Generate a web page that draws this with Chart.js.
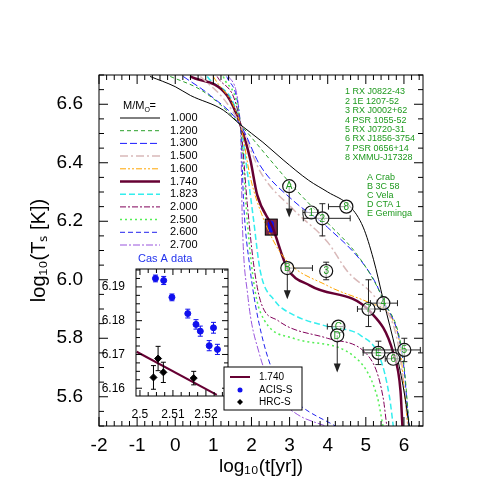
<!DOCTYPE html>
<html>
<head>
<meta charset="utf-8">
<script src="https://cdn.jsdelivr.net/npm/chart.js@4"></script>
<style>
  body { margin:0; background:#fff; }
  #wrap { position:relative; width:498px; height:498px; }
  #wrap canvas { position:absolute; left:0; top:0; }
</style>
</head>
<body>
<div id="wrap">
  <canvas id="main" width="498" height="498"></canvas>
  <canvas id="inset" width="498" height="498"></canvas>
</div>
<script>
/* ---------- 1.  DATA ---------- */
const xTicks = [-2, -1, 0, 1, 2, 3, 4, 5, 6];
const yTicks = [5.6, 5.8, 6.0, 6.2, 6.4, 6.6];
const masses = ['1.000','1.200','1.300','1.500','1.600','1.740','1.823','2.000','2.500','2.600','2.700'];

// cooling curves, log t  /  log Ts
const m100x = [-0.66, 0, 0.4, 1.26, 1.71, 2.3, 2.83, 3.5, 4.0, 4.59, 4.93, 5.2, 5.46, 5.8, 6.0, 6.14];
const m100y = [6.695, 6.66, 6.63, 6.58, 6.53, 6.47, 6.41, 6.34, 6.3, 6.25, 6.18, 6.07, 5.93, 5.75, 5.62, 5.5];
const m120x = [-0.13, 0.66, 1.26, 1.71, 2.49, 3.15, 3.88, 4.86, 5.46, 5.98, 6.14];
const m120y = [6.695, 6.65, 6.59, 6.53, 6.41, 6.31, 6.21, 6.07, 5.93, 5.73, 5.5];
const m130x = [0.21, 0.92, 1.71, 2.23, 3.1, 3.99, 5.12, 5.46, 5.98, 6.13];
const m130y = [6.695, 6.63, 6.53, 6.39, 6.27, 6.18, 6.02, 5.93, 5.72, 5.5];
const m150x = [0.66, 1.26, 1.71, 2.23, 3.1, 3.99, 4.51, 5.3, 5.83, 6.12];
const m150y = [6.695, 6.62, 6.53, 6.37, 6.24, 6.13, 6.03, 5.93, 5.79, 5.5];
const m160x = [1.0, 1.71, 1.97, 2.31, 2.83, 3.99, 5.12, 5.83, 6.1];
const m160y = [6.695, 6.53, 6.35, 6.21, 6.08, 5.98, 5.92, 5.82, 5.5];
const m174x = [0.39, 1.36, 1.71, 1.97, 2.15, 2.55, 2.94, 3.54, 5.12, 5.72, 5.91, 5.96];
const m174y = [6.695, 6.63, 6.53, 6.41, 6.29, 6.18, 6.04, 5.98, 5.89, 5.75, 5.62, 5.5];
const m182x = [0.84, 1.71, 1.88, 2.05, 2.23, 2.6, 3.1, 4.0, 4.86, 5.38, 5.62, 5.72];
const m182y = [6.695, 6.53, 6.38, 6.21, 6.03, 5.93, 5.88, 5.84, 5.81, 5.73, 5.6, 5.5];
const m200x = [1.1, 1.71, 1.89, 2.05, 2.23, 2.7, 3.99, 5.12, 5.45, 5.55];
const m200y = [6.695, 6.53, 6.26, 6.06, 5.93, 5.86, 5.8, 5.73, 5.6, 5.5];
const m250x = [1.26, 1.71, 1.89, 2.05, 2.23, 3.1, 4.67, 5.3, 5.45];
const m250y = [6.695, 6.53, 6.2, 6.0, 5.89, 5.8, 5.74, 5.6, 5.5];
const m260x = [1.35, 1.71, 1.8, 1.95, 2.2, 2.68, 3.28, 4.2];
const m260y = [6.695, 6.53, 6.25, 6.05, 5.85, 5.65, 5.57, 5.5];
const m270x = [1.4, 1.71, 1.76, 1.9, 2.2, 2.7, 3.2, 3.94];
const m270y = [6.695, 6.53, 6.2, 5.95, 5.75, 5.6, 5.54, 5.5];

// observed stars
const obsLabel = ['A','1','2','8','B','3','7','4','C','D','E','6','5'];
const obsX     = [2.99, 3.57, 3.86, 4.49, 2.94, 3.96, 5.07, 5.46, 4.28, 4.25, 5.33, 5.72, 6.01];
const obsY     = [6.32, 6.23, 6.21, 6.25, 6.04, 6.03, 5.90, 5.92, 5.84, 5.81, 5.75, 5.73, 5.76];
const obsXlo   = [null, 3.35, 3.36, 4.02, null, null, 4.78, 5.12, 3.99, null, 4.93, 5.51, 4.93];
const obsXhi   = [null, 3.75, 4.59, null, 3.6, null, 5.38, 5.83, 4.41, null, 5.7, 5.9, 6.43];
const obsYlo   = [null, null, 6.15, null, null, 6.0, 5.84, 5.9, null, null, 5.71, null, 5.72];
const obsYhi   = [null, null, 6.26, null, null, 6.06, 6.0, 5.94, null, null, 5.79, null, 5.8];
const arrowTo  = [6.22, null, null, null, 5.94, null, null, null, null, 5.69, null, null, null];

const starList = ['1 RX J0822-43','2 1E 1207-52','3 RX J0002+62','4 PSR 1055-52','5 RX J0720-31','6 RX J1856-3754','7 PSR 0656+14','8 XMMU-J17328'];
const snrList  = ['A Crab','B 3C 58','C Vela','D CTA 1','E Geminga'];

// Cas A (inset)
const acisX = [2.5047, 2.5072, 2.5097, 2.5145, 2.5170, 2.5183, 2.5210, 2.5223, 2.5235];
const acisY = [6.1925, 6.1919, 6.1869, 6.1821, 6.1789, 6.1769, 6.1726, 6.1779, 6.1715];
const acisE = [0.0010, 0.0012, 0.0010, 0.0013, 0.0014, 0.0015, 0.0015, 0.0016, 0.0015];
const hrcX  = [2.5041, 2.5055, 2.5071, 2.5163];
const hrcY  = [6.1632, 6.1688, 6.1647, 6.1630];
const hrcE  = [0.0035, 0.0036, 0.0030, 0.0020];
const lineX = [2.499, 2.5233];
const lineY = [6.1708, 6.158];
const insetXTicks = [2.5, 2.51, 2.52];
const insetYTicks = [6.16, 6.17, 6.18, 6.19];

/* ---------- 2.  STYLES ---------- */
const FONT = '"Liberation Sans", Arial, sans-serif';
const curveStyle = [
  { c:'#000000', d:[],              w:1 },
  { c:'#2aa02a', d:[4,3],           w:1 },
  { c:'#1a1aff', d:[7,3],           w:1 },
  { c:'#d9b9b9', d:[8,3,2,3],       w:1.5 },
  { c:'#ffa500', d:[6,2,2,2,2,2],   w:1 },
  { c:'#660033', d:[],              w:2.5 },
  { c:'#33eeee', d:[6,3],           w:1.5 },
  { c:'#80005a', d:[6,2,2,2],       w:1 },
  { c:'#55ee55', d:[2,3],           w:1.5 },
  { c:'#2222ee', d:[5,3],           w:1 },
  { c:'#9955dd', d:[7,2,2,2],       w:1 }
];
const curvesX = [m100x,m120x,m130x,m150x,m160x,m174x,m182x,m200x,m250x,m260x,m270x];
const curvesY = [m100y,m120y,m130y,m150y,m160y,m174y,m182y,m200y,m250y,m260y,m270y];

const zip = (xs, ys) => xs.map((x, i) => ({ x, y: ys[i] }));

/* ---------- 3.  HELPERS ---------- */
function drawTicks(chart, xMajor, yMajor, xMinorStep, yMinorStep, majLen, minLen) {
  const { ctx, chartArea: a, scales: { x, y } } = chart;
  ctx.save();
  ctx.strokeStyle = '#000'; ctx.lineWidth = 1;
  ctx.strokeRect(a.left, a.top, a.right - a.left, a.bottom - a.top);
  ctx.beginPath();
  for (let v = Math.ceil(x.min / xMinorStep - 1e-6) * xMinorStep; v <= x.max + 1e-9; v += xMinorStep) {
    const px = x.getPixelForValue(v);
    const L = xMajor.some(t => Math.abs(t - v) < xMinorStep / 10) ? majLen : minLen;
    ctx.moveTo(px, a.bottom); ctx.lineTo(px, a.bottom - L);
    ctx.moveTo(px, a.top);    ctx.lineTo(px, a.top + L);
  }
  for (let v = Math.ceil(y.min / yMinorStep - 1e-6) * yMinorStep; v <= y.max + 1e-9; v += yMinorStep) {
    const py = y.getPixelForValue(v);
    const L = yMajor.some(t => Math.abs(t - v) < yMinorStep / 10) ? majLen : minLen;
    ctx.moveTo(a.left, py);  ctx.lineTo(a.left + L, py);
    ctx.moveTo(a.right, py); ctx.lineTo(a.right - L, py);
  }
  ctx.stroke();
  ctx.restore();
}

/* ---------- 4.  MAIN CHART ---------- */
const mainDecor = {
  id: 'mainDecor',
  beforeDatasetsDraw(chart) {
    const { ctx, scales: { x, y } } = chart;
    const cx = x.getPixelForValue(2.52), cy = y.getPixelForValue(6.18);
    ctx.save(); ctx.fillStyle = '#7a2a45'; ctx.fillRect(cx - 6, cy - 8, 12, 16); ctx.restore();
  },
  afterDatasetsDraw(chart) {
    const { ctx, scales: { x, y } } = chart;
    drawTicks(chart, xTicks, yTicks, 0.2, 0.05, 9, 5);

    ctx.save();
    // Cas A box
    const cx = x.getPixelForValue(2.52), cy = y.getPixelForValue(6.18);
    ctx.strokeStyle = '#000'; ctx.lineWidth = 1;
    ctx.strokeRect(cx - 6, cy - 8, 12, 16);

    // observed objects
    obsLabel.forEach((lab, i) => {
      const px = x.getPixelForValue(obsX[i]), py = y.getPixelForValue(obsY[i]);
      ctx.strokeStyle = '#222'; ctx.lineWidth = 1;
      ctx.beginPath();
      if (obsXlo[i] != null) { const q = x.getPixelForValue(obsXlo[i]);
        ctx.moveTo(q, py); ctx.lineTo(px, py); ctx.moveTo(q, py - 3); ctx.lineTo(q, py + 3); }
      if (obsXhi[i] != null) { const q = x.getPixelForValue(obsXhi[i]);
        ctx.moveTo(px, py); ctx.lineTo(q, py); ctx.moveTo(q, py - 3); ctx.lineTo(q, py + 3); }
      if (obsYlo[i] != null) {
        const p1 = y.getPixelForValue(obsYlo[i]), p2 = y.getPixelForValue(obsYhi[i]);
        ctx.moveTo(px, p1); ctx.lineTo(px, p2);
        ctx.moveTo(px - 3, p1); ctx.lineTo(px + 3, p1);
        ctx.moveTo(px - 3, p2); ctx.lineTo(px + 3, p2);
      }
      if (arrowTo[i] != null) { ctx.moveTo(px, py); ctx.lineTo(px, y.getPixelForValue(arrowTo[i])); }
      ctx.stroke();
      if (arrowTo[i] != null) {
        const pe = y.getPixelForValue(arrowTo[i]);
        ctx.fillStyle = '#222';
        ctx.beginPath(); ctx.moveTo(px, pe + 2); ctx.lineTo(px - 3.5, pe - 7); ctx.lineTo(px + 3.5, pe - 7); ctx.closePath(); ctx.fill();
      }
      ctx.beginPath(); ctx.arc(px, py, 6.5, 0, Math.PI * 2);
      ctx.fillStyle = 'rgba(255,255,255,0.6)'; ctx.fill();
      ctx.strokeStyle = '#111'; ctx.lineWidth = 1.2; ctx.stroke();
      ctx.fillStyle = '#1f9a1f'; ctx.font = '10px ' + FONT;
      ctx.textAlign = 'center'; ctx.textBaseline = 'middle';
      ctx.fillText(lab, px, py + 0.5);
    });

    // star / SNR lists
    ctx.fillStyle = '#1f9a1f'; ctx.font = '9px ' + FONT;
    ctx.textAlign = 'left'; ctx.textBaseline = 'middle';
    starList.forEach((s, i) => ctx.fillText(s, 345, 92 + i * 9.4));
    snrList.forEach((s, i) => ctx.fillText(s, 367, 178 + i * 9));

    // mass legend
    ctx.fillStyle = '#000'; ctx.font = '11px ' + FONT;
    ctx.fillText('M/M', 123, 106);
    const w = ctx.measureText('M/M').width;
    ctx.font = '7px ' + FONT; ctx.fillText('O', 123 + w, 110);
    ctx.font = '11px ' + FONT; ctx.fillText('=', 123 + w + 5, 106);
    masses.forEach((m, i) => {
      const ly = 118 + i * 12.7, st = curveStyle[i];
      ctx.strokeStyle = st.c; ctx.lineWidth = st.w; ctx.setLineDash(st.d);
      ctx.beginPath(); ctx.moveTo(120, ly); ctx.lineTo(160, ly); ctx.stroke();
      ctx.setLineDash([]);
      ctx.fillStyle = '#000'; ctx.font = '11px ' + FONT;
      ctx.fillText(m, 170, ly);
    });
    ctx.fillStyle = '#2233ee'; ctx.fillText('Cas A data', 138, 259);
    ctx.restore();
  }
};

const mainSets = curvesX.map((xs, i) => ({
  data: zip(xs, curvesY[i]),
  showLine: true, pointRadius: 0, cubicInterpolationMode: 'monotone',
  borderColor: curveStyle[i].c, borderWidth: curveStyle[i].w, borderDash: curveStyle[i].d
}));
mainSets.push({ data: zip(acisX, acisY), showLine: false,
  pointRadius: 2.5, backgroundColor: '#1010ee', borderColor: '#1010ee' });

new Chart(document.getElementById('main'), {
  type: 'scatter',
  data: { datasets: mainSets },
  plugins: [mainDecor],
  options: {
    responsive: false, animation: false,
    layout: { padding: { left: 27, right: 75, top: 75, bottom: 20 } },
    plugins: { legend: { display: false }, tooltip: { enabled: false } },
    scales: {
      x: {
        type: 'linear', min: -2, max: 6.5,
        afterBuildTicks: s => { s.ticks = xTicks.map(v => ({ value: v })); },
        afterFit: s => { s.height = 52; },
        grid: { display: false }, border: { display: false },
        ticks: { color: '#000', font: { size: 19, family: FONT }, padding: 0, maxRotation: 0 },
        title: { display: true, text: 'log₁₀(t[yr])', color: '#000', font: { size: 19, family: FONT }, padding: { top: 6, bottom: 0 } }
      },
      y: {
        type: 'linear', min: 5.5, max: 6.7,
        afterBuildTicks: s => { s.ticks = yTicks.map(v => ({ value: v })); },
        afterFit: s => { s.width = 72; },
        grid: { display: false }, border: { display: false },
        ticks: { color: '#000', font: { size: 19, family: FONT }, padding: 8, callback: v => v.toFixed(1) },
        title: { display: true, text: 'log₁₀(Tₛ [K])', color: '#000', font: { size: 20, family: FONT }, padding: 0 }
      }
    }
  }
});

/* ---------- 5.  INSET CHART ---------- */
const insetDecor = {
  id: 'insetDecor',
  beforeDatasetsDraw(chart) {
    const { ctx, chartArea: a } = chart;
    ctx.save(); ctx.fillStyle = '#fff';
    ctx.fillRect(a.left, a.top, a.right - a.left, a.bottom - a.top);
    ctx.restore();
  },
  afterDatasetsDraw(chart) {
    const { ctx, scales: { x, y } } = chart;
    ctx.save();
    ctx.lineWidth = 1;
    const bars = (xs, ys, es, col) => {
      ctx.strokeStyle = col; ctx.beginPath();
      xs.forEach((v, i) => {
        const px = x.getPixelForValue(v), p1 = y.getPixelForValue(ys[i] - es[i]), p2 = y.getPixelForValue(ys[i] + es[i]);
        ctx.moveTo(px, p1); ctx.lineTo(px, p2);
        ctx.moveTo(px - 2.5, p1); ctx.lineTo(px + 2.5, p1);
        ctx.moveTo(px - 2.5, p2); ctx.lineTo(px + 2.5, p2);
      });
      ctx.stroke();
    };
    bars(acisX, acisY, acisE, '#1010ee');
    bars(hrcX, hrcY, hrcE, '#000');
    ctx.restore();
    drawTicks(chart, insetXTicks, insetYTicks, 0.0025, 0.0025, 6, 4);

    // legend box
    ctx.save();
    ctx.fillStyle = '#fff'; ctx.fillRect(224, 367, 78, 43);
    ctx.strokeStyle = '#000'; ctx.lineWidth = 1; ctx.strokeRect(224, 367, 78, 43);
    ctx.strokeStyle = '#660033'; ctx.lineWidth = 2;
    ctx.beginPath(); ctx.moveTo(230, 377); ctx.lineTo(250, 377); ctx.stroke();
    ctx.fillStyle = '#1010ee'; ctx.beginPath(); ctx.arc(240, 390, 2.5, 0, Math.PI * 2); ctx.fill();
    ctx.fillStyle = '#000'; ctx.beginPath();
    ctx.moveTo(240, 399); ctx.lineTo(243, 402); ctx.lineTo(240, 405); ctx.lineTo(237, 402); ctx.closePath(); ctx.fill();
    ctx.font = '10px ' + FONT; ctx.textBaseline = 'middle'; ctx.textAlign = 'left';
    ctx.fillText('1.740', 259, 377); ctx.fillText('ACIS-S', 259, 390); ctx.fillText('HRC-S', 259, 402);
    ctx.restore();
  }
};

new Chart(document.getElementById('inset'), {
  type: 'scatter',
  data: { datasets: [
    { data: zip(lineX, lineY), showLine: true, pointRadius: 0, borderColor: '#660033', borderWidth: 2 },
    { data: zip(acisX, acisY), pointRadius: 3, backgroundColor: '#1010ee', borderColor: '#1010ee' },
    { data: zip(hrcX, hrcY), pointStyle: 'rectRot', pointRadius: 3.5, backgroundColor: '#000', borderColor: '#000' }
  ] },
  plugins: [insetDecor],
  options: {
    responsive: false, animation: false,
    events: [],
    layout: { padding: { left: 0, right: 270, top: 269, bottom: 0 } },
    plugins: { legend: { display: false }, tooltip: { enabled: false } },
    scales: {
      x: {
        type: 'linear', min: 2.4988, max: 2.5267,
        afterBuildTicks: s => { s.ticks = insetXTicks.map(v => ({ value: v })); },
        afterFit: s => { s.height = 102; },
        grid: { display: false }, border: { display: false },
        ticks: { color: '#000', font: { size: 12, family: FONT }, padding: 3, maxRotation: 0, callback: v => String(+v.toFixed(2)) }
      },
      y: {
        type: 'linear', min: 6.1577, max: 6.1953,
        afterBuildTicks: s => { s.ticks = insetYTicks.map(v => ({ value: v })); },
        afterFit: s => { s.width = 136; },
        grid: { display: false }, border: { display: false },
        ticks: { color: '#000', font: { size: 12, family: FONT }, padding: 3, callback: v => v.toFixed(2) }
      }
    }
  }
});
</script>
</body>
</html>
